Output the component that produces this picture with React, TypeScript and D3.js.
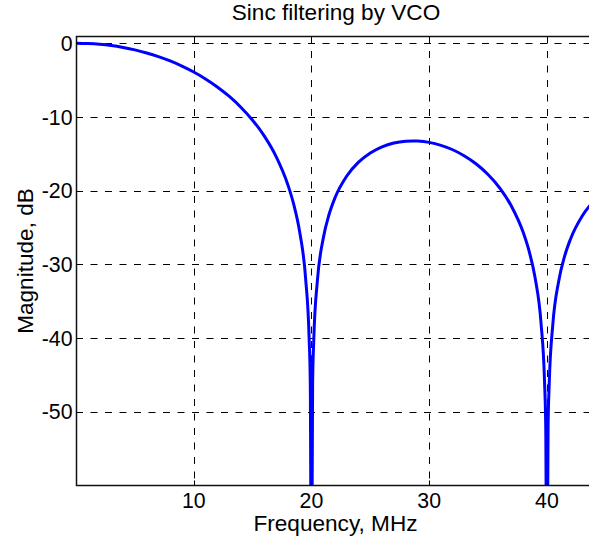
import React from "react";
import * as d3 from "d3";

const freqMHz = [
  0, 1, 2, 3, 4, 5, 6, 7, 8, 9, 10, 11, 12, 13, 14, 15, 16, 17, 18, 18.5, 19, 19.5, 19.8, 19.9, 20,
  20.1, 20.2, 20.5, 21, 21.5, 22, 23, 24, 25, 26, 27, 28, 28.6, 29, 30, 31, 32, 33, 34, 35, 36, 37,
  38, 38.5, 39, 39.5, 39.8, 39.9, 40, 40.1, 40.2, 40.5, 41, 41.5, 42, 43, 44, 45,
];
const magnitudeDb = [
  0, -0.04, -0.14, -0.32, -0.58, -0.91, -1.33, -1.83, -2.42, -3.12, -3.92, -4.86, -5.94, -7.2, -8.69,
  -10.45, -12.62, -15.39, -19.23, -21.9, -25.61, -31.83, -39.91, -45.98, -80,
  -46.07, -40.09, -32.27, -26.48, -23.21, -20.97, -18.02, -16.14, -14.89, -14.06, -13.55, -13.3, -13.26,
  -13.28, -13.46, -13.86, -14.46, -15.3, -16.39, -17.81, -19.66, -22.15,
  -25.72, -28.27, -31.86, -37.96, -45.98, -52.02, -80, -52.06, -46.07, -38.18, -32.29, -28.92, -26.59,
  -23.45, -21.41, -20.0,
];
const xTicks = [10, 20, 30, 40];
const yTicks = [0, -10, -20, -30, -40, -50];
const titleText = "Sinc filtering by VCO";
const xLabelText = "Frequency, MHz";
const yLabelText = "Magnitude, dB";

const W = 589;
const H = 543;
const left = 76;
const right = 594;
const top = 36.5;
const bottom = 485.5;

export default function App() {
  const x = d3.scaleLinear().domain([0, 44]).range([left, right]);
  const y = d3.scaleLinear().domain([-60, 0.9]).range([bottom, top]);
  const pts: [number, number][] = freqMHz.map((f, i) => [f, magnitudeDb[i]]);
  const line = d3
    .line<[number, number]>()
    .x((d) => x(d[0]))
    .y((d) => y(d[1]))
    .curve(d3.curveMonotoneX);
  const font = "'Liberation Sans', Arial, sans-serif";
  const dash = "7,7.5";
  const labelSize = 22.6;
  const tickSize = 21.3;
  return (
    <svg
      width={W}
      height={H}
      style={{ position: "absolute", left: 0, top: 0, background: "#fff" }}
      fontFamily={font}
    >
      <defs>
        <clipPath id="plotClip">
          <rect x={left} y={top} width={right - left} height={bottom - top} />
        </clipPath>
      </defs>
      <rect x={0} y={0} width={W} height={H} fill="#fff" />
      {xTicks.map((t) => (
        <line
          key={"gx" + t}
          x1={Math.round(x(t)) + 0.5}
          x2={Math.round(x(t)) + 0.5}
          y1={top}
          y2={bottom}
          stroke="#000"
          strokeWidth={1}
          strokeDasharray={dash}
        />
      ))}
      {yTicks.map((t) => (
        <line
          key={"gy" + t}
          x1={left}
          x2={right}
          y1={Math.round(y(t)) + 0.5}
          y2={Math.round(y(t)) + 0.5}
          stroke="#000"
          strokeWidth={1}
          strokeDasharray={dash}
        />
      ))}
      <path
        d={line(pts) || ""}
        fill="none"
        stroke="#0000ff"
        strokeWidth={3}
        strokeLinejoin="round"
        clipPath="url(#plotClip)"
      />
      <rect
        x={left + 0.5}
        y={top}
        width={right - left}
        height={bottom - top}
        fill="none"
        stroke="#111"
        strokeWidth={1.5}
      />
      {xTicks.map((t) => (
        <g key={"tx" + t}>
          <line x1={Math.round(x(t)) + 0.5} x2={Math.round(x(t)) + 0.5} y1={bottom} y2={bottom - 5} stroke="#000" />
          <line x1={Math.round(x(t)) + 0.5} x2={Math.round(x(t)) + 0.5} y1={top} y2={top + 5} stroke="#000" />
          <text x={x(t)} y={507.5} textAnchor="middle" fontSize={tickSize} fill="#000">
            {t}
          </text>
        </g>
      ))}
      {yTicks.map((t) => (
        <g key={"ty" + t}>
          <line x1={left} x2={left + 5} y1={Math.round(y(t)) + 0.5} y2={Math.round(y(t)) + 0.5} stroke="#000" />
          <text x={72.5} y={y(t)} dy="0.36em" textAnchor="end" fontSize={tickSize} fill="#000">
            {t}
          </text>
        </g>
      ))}
      <text x={336} y={20} textAnchor="middle" fontSize={labelSize} fill="#000">
        {titleText}
      </text>
      <text x={335.5} y={530.5} textAnchor="middle" fontSize={labelSize} fill="#000">
        {xLabelText}
      </text>
      <text
        transform={`translate(33, ${(top + bottom) / 2}) rotate(-90)`}
        textAnchor="middle"
        fontSize={labelSize}
        fill="#000"
      >
        {yLabelText}
      </text>
    </svg>
  );
}
